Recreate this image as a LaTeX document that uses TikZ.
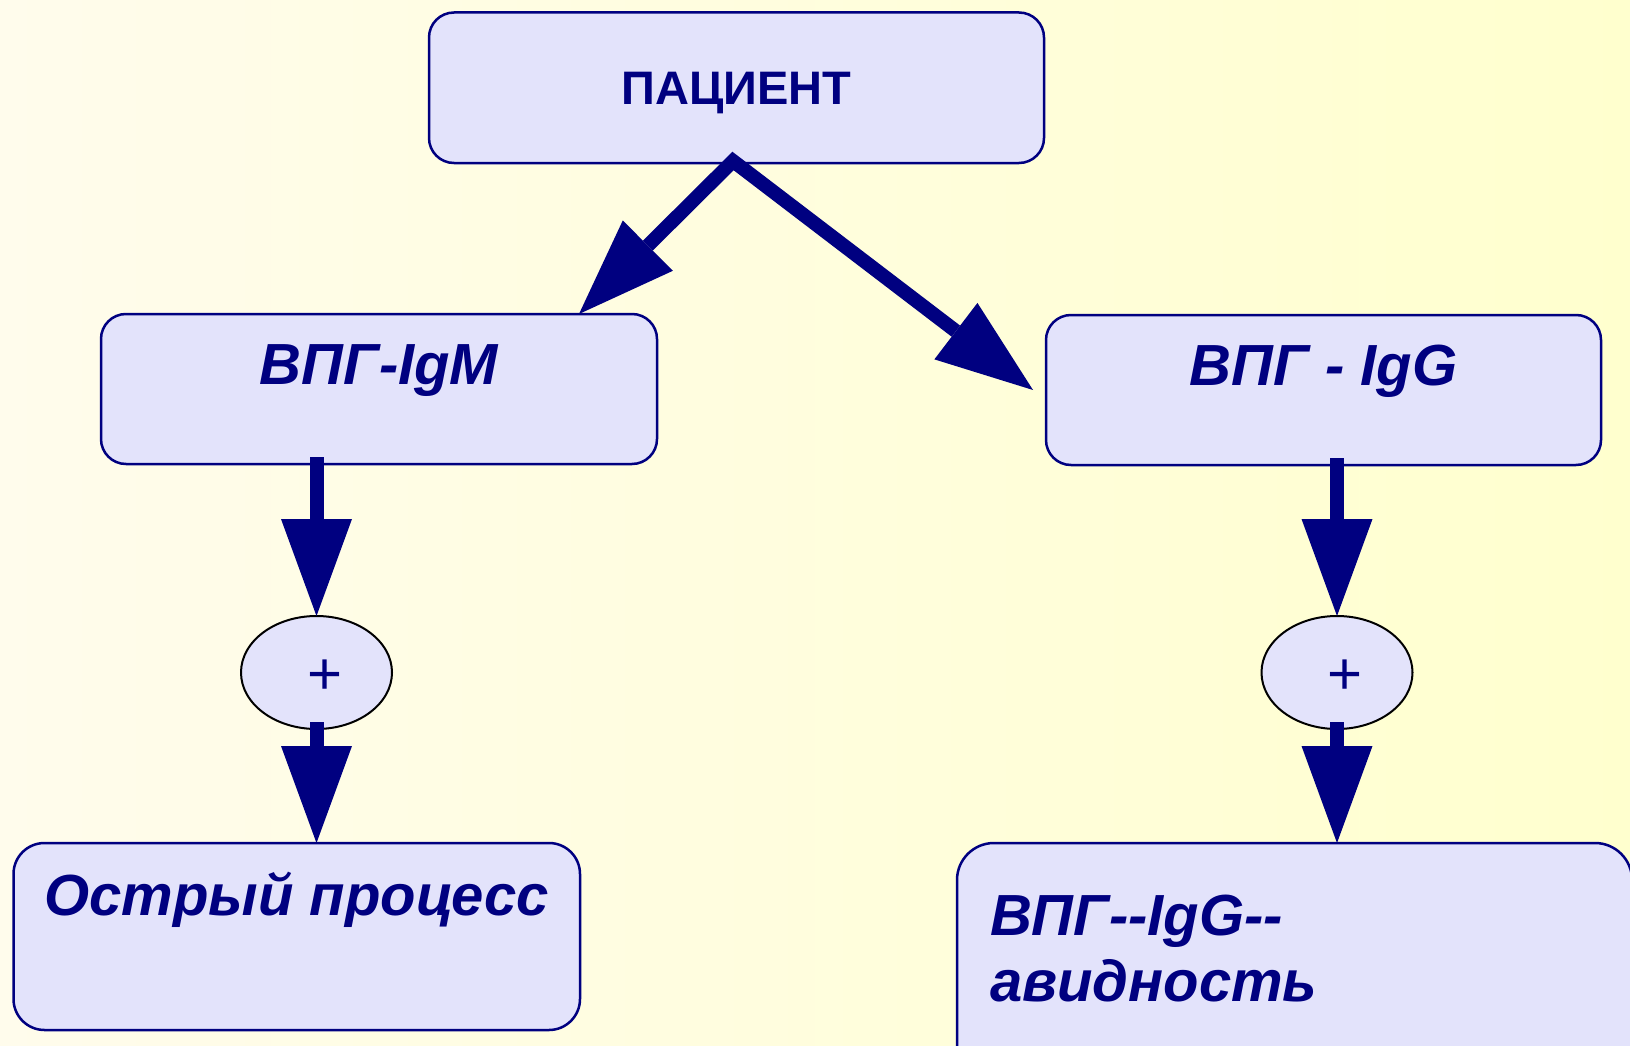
\documentclass[tikz,border=0pt]{standalone}
\usepackage{fontspec}
\setmainfont{Liberation Sans}
\usetikzlibrary{arrows.meta,shapes.geometric,calc}
\definecolor{ink}{RGB}{0,0,128}
\definecolor{boxfill}{RGB}{227,227,251}
\definecolor{bgleft}{RGB}{255,252,236}
\definecolor{bgright}{RGB}{255,255,206}

\begin{document}
\begin{tikzpicture}[x=1pt,y=-1pt,
  card/.style={draw=ink, line width=2.5pt, fill=boxfill, rounded corners=#1,
    inner sep=0pt, outer sep=0pt, text=ink, align=center},
  card/.default=25pt,
  bigtext/.style={font=\fontsize{58}{66}\selectfont\bfseries\itshape},
  oval/.style={ellipse, draw=black, line width=2pt, fill=boxfill,
    minimum width=151pt, minimum height=113pt, inner sep=0pt, outer sep=0pt,
    text=ink, font=\fontsize{60}{60}\selectfont, text height=43pt, text depth=0pt},
  flow/.style={draw=ink, line width=14pt, line join=miter,
    -{Triangle[length=97pt,width=71pt,line width=0pt]}},
  flowpair/.style={draw=ink, line width=14pt, line join=miter,
    {Triangle[length=97pt,width=71pt,line width=0pt]}-{Triangle[length=97pt,width=71pt,line width=0pt]}}
]
% canvas and background
\useasboundingbox (0,0) rectangle (1630,1046);
\clip (0,0) rectangle (1630,1046);
\fill[left color=bgleft, right color=bgright] (0,0) rectangle (1630,1046);

% boxes
\node[card, minimum width=615pt, minimum height=150.5pt,
      font=\fontsize{47}{55}\selectfont\bfseries,
      text height=33pt, text depth=0pt] (patient) at (736.5,87.75) {ПАЦИЕНТ};
\node[card, bigtext, minimum width=556pt, minimum height=150pt,
      text height=41.5pt, text depth=50pt] (igm) at (379,389) {ВПГ-IgM};
\node[card, bigtext, minimum width=555pt, minimum height=150pt,
      text height=41.5pt, text depth=51pt] (igg) at (1323.5,390) {ВПГ - IgG};
\node[card=31pt, bigtext, minimum width=566.5pt, minimum height=187pt,
      text height=41.5pt, text depth=84pt] (acute) at (296.75,936.5) {Острый процесс};
\node[card=37pt, bigtext, anchor=north west, minimum width=675pt,
      inner xsep=33pt, inner ysep=52pt, text width=609pt, align=left,
      text depth=140pt]
      (avid) at (957,843) {ВПГ-{}-IgG-{}-\\авидность};

% result ellipses
\node[oval] (posM) at (316.5,672.5) {\hspace*{17pt}+};
\node[oval] (posG) at (1337,672.5) {\hspace*{17pt}+};

% connectors
\coordinate (split) at (733,161);
\draw[flowpair] ([xshift=-78pt]igm.north east) -- (split) -- ([xshift=-13pt]igg.west);
\draw[flow] ([yshift=7pt]posM |- igm.south) -- (posM.north);
\draw[flow] ([yshift=7pt]posM.south) -- (posM |- acute.north);
\draw[flow] ([yshift=7pt]posG |- igg.south) -- (posG.north);
\draw[flow] ([yshift=7pt]posG.south) -- (posG |- avid.north);
\end{tikzpicture}
\end{document}
